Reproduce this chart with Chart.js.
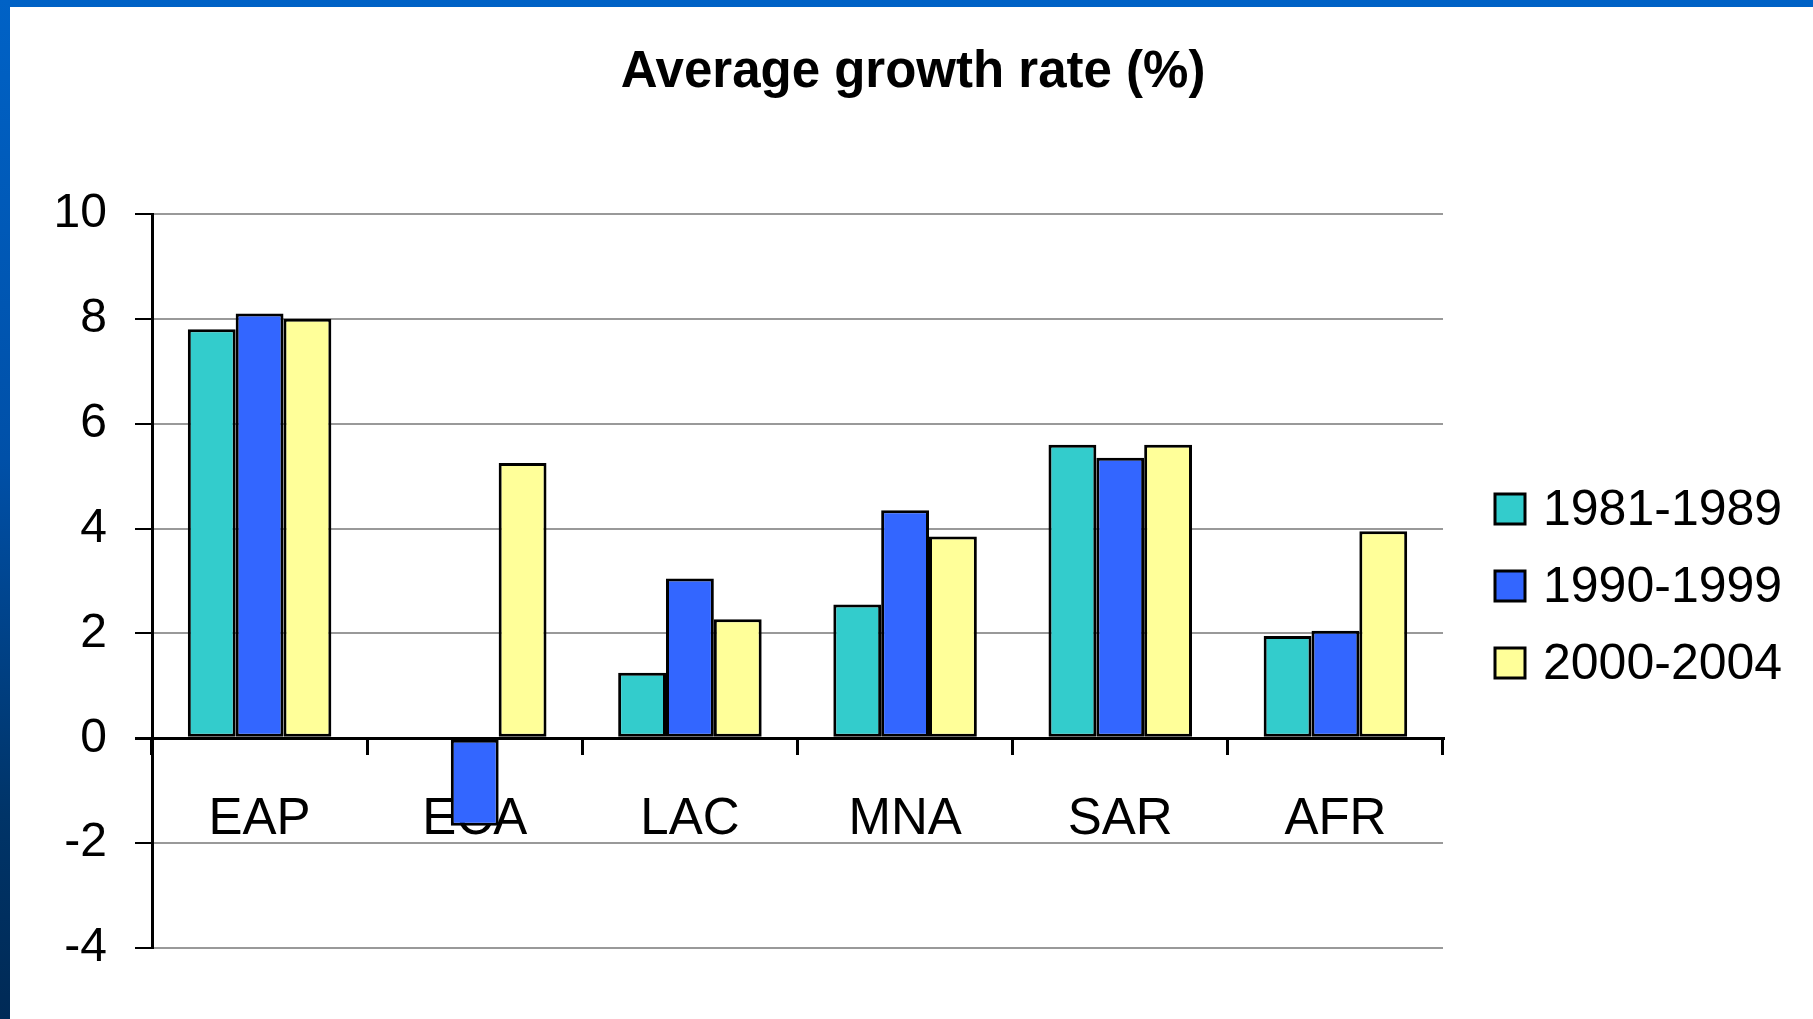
<!DOCTYPE html>
<html>
<head>
<meta charset="utf-8">
<script src="https://cdn.jsdelivr.net/npm/chart.js@4.4.0/dist/chart.umd.min.js"></script>
<style>
  html, body { margin: 0; padding: 0; }
  body {
    width: 1813px; height: 1019px; overflow: hidden; position: relative;
    background: linear-gradient(#0062c6, #0050a8 45%, #003468 80%, #002a56);
  }
  #frame { position: absolute; left: 10px; top: 7px; width: 1803px; height: 1012px; background: #fff; }
</style>
</head>
<body>
<div id="frame"><canvas id="myChart" width="1803" height="1012"></canvas></div>
<script>
// data
const regions = ['EAP', 'ECA', 'LAC', 'MNA', 'SAR', 'AFR'];
const periods = ['1981-1989', '1990-1999', '2000-2004'];
const growth8189 = [7.8, null, 1.25, 2.55, 5.6, 1.95];
const growth9099 = [8.1, -1.67, 3.05, 4.35, 5.35, 2.05];
const growth0004 = [8.0, 5.25, 2.27, 3.85, 5.6, 3.95];
const yTicks = [-4, -2, 0, 2, 4, 6, 8, 10];
const barColors = ['#33cccc', '#3366ff', '#ffff99'];
const chartTitle = 'Average growth rate (%)';

const fontFamily = '"Liberation Sans", Arial, sans-serif';

// title (centred on the whole slide) and legend on the right, drawn by hand
const sideLegend = {
    id: 'sideLegend',
    afterDraw(chart) {
        let ctx = chart.ctx;
        ctx.save();
        ctx.fillStyle = '#000';
        ctx.font = 'bold 51px ' + fontFamily;
        ctx.textAlign = 'center';
        ctx.textBaseline = 'middle';
        ctx.fillText(chartTitle, 903, 66);

        ctx.font = '50px ' + fontFamily;
        ctx.textAlign = 'left';
        chart.data.datasets.forEach(function(ds, i) {
            let y = 502 + i * 77;
            ctx.fillStyle = ds.backgroundColor;
            ctx.fillRect(1485, y - 15, 30, 30);
            ctx.lineWidth = 3;
            ctx.strokeStyle = '#000';
            ctx.strokeRect(1485, y - 15, 30, 30);
            ctx.fillStyle = '#000';
            ctx.fillText(ds.label, 1533, y + 2);
        });
        ctx.restore();
    }
};

const seriesValues = [growth8189, growth9099, growth0004];

new Chart(document.getElementById('myChart'), {
    type: 'bar',
    data: {
        labels: regions,
        datasets: periods.map(function(p, i) {
            return {
                label: p,
                data: seriesValues[i],
                backgroundColor: barColors[i],
                borderColor: '#000',
                borderWidth: 3,
                borderSkipped: false,
                categoryPercentage: 0.667,
                barPercentage: 1.0
            };
        })
    },
    options: {
        responsive: false,
        animation: false,
        layout: { padding: { left: 0, right: 370, top: 207, bottom: 71 } },
        plugins: {
            legend: { display: false },
            tooltip: { enabled: false },
            title: { display: false }
        },
        scales: {
            x: {
                type: 'category',
                position: { y: 0 },
                offset: true,
                z: 1,
                grid: {
                    offset: true,
                    drawOnChartArea: false,
                    tickLength: 15,
                    color: '#000',
                    lineWidth: 3
                },
                border: { display: true, color: '#000', width: 3 },
                ticks: {
                    color: '#000',
                    font: { family: fontFamily, size: 51 },
                    padding: 36,
                    maxRotation: 0
                }
            },
            y: {
                min: -4,
                max: 10,
                afterBuildTicks: function(s) { s.ticks = yTicks.map(v => ({ value: v })); },
                afterFit: function(s) { s.width = 142; },
                grid: {
                    color: c => c.tick && c.tick.value === 0 ? '#000' : '#999',
                    lineWidth: c => c.tick && c.tick.value === 0 ? 3 : 2,
                    tickColor: '#000',
                    tickLength: 17
                },
                border: { display: true, color: '#000', width: 3 },
                ticks: {
                    color: '#000',
                    font: { family: fontFamily, size: 48 },
                    padding: 28
                }
            }
        }
    },
    plugins: [sideLegend]
});
</script>
</body>
</html>
